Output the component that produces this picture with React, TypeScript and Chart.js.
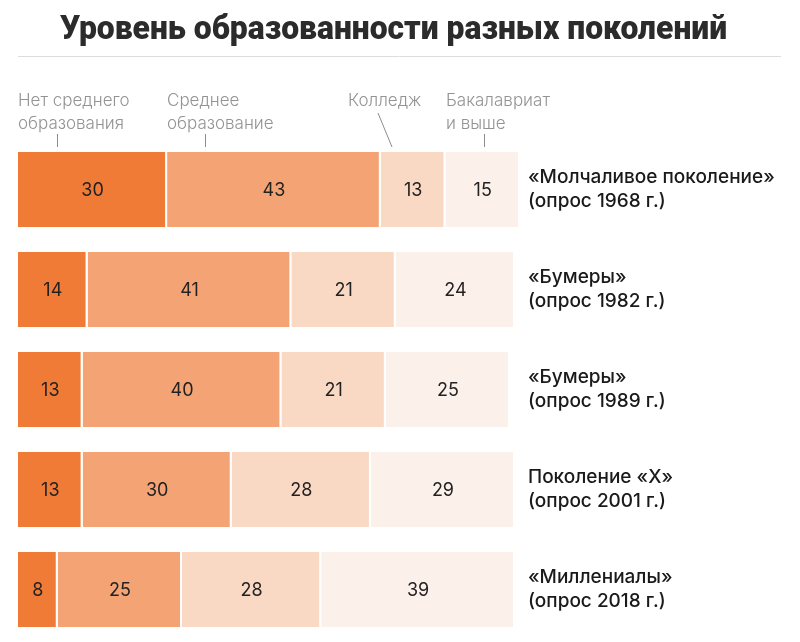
import React, { useEffect, useRef } from "react";
import { Chart, registerables } from "chart.js";

Chart.register(...registerables);

const title = "Уровень образованности разных поколений";
const rowLabels = [
  ["«Молчаливое поколение»", "(опрос 1968 г.)"],
  ["«Бумеры»", "(опрос 1982 г.)"],
  ["«Бумеры»", "(опрос 1989 г.)"],
  ["Поколение «X»", "(опрос 2001 г.)"],
  ["«Миллениалы»", "(опрос 2018 г.)"],
];
const categories = ["1968", "1982", "1989", "2001", "2018"];
const seriesNames = [
  ["Нет среднего", "образования"],
  ["Среднее", "образование"],
  ["Колледж"],
  ["Бакалавриат", "и выше"],
];
const noHighSchool = [30, 14, 13, 13, 8];
const highSchool = [43, 41, 40, 30, 25];
const college = [13, 21, 21, 28, 28];
const bachelor = [15, 24, 25, 29, 39];
const colors = ["#F07B36", "#F4A474", "#F9D8C4", "#FCF0EA"];

export default function App() {
  const ref = useRef<HTMLCanvasElement | null>(null);
  useEffect(() => {
    const canvas = ref.current!;
    const decor = {
      id: "decor",
      afterDraw(chart: any) {
        const ctx = chart.ctx as CanvasRenderingContext2D;
        ctx.save();
        // title
        ctx.fillStyle = "#2b2b2b";
        ctx.font = "900 34px Roboto";
        ctx.textBaseline = "alphabetic";
        ctx.textAlign = "left";
        const w = ctx.measureText(title).width;
        const sx = 667 / w;
        ctx.save();
        ctx.translate(60, 39);
        ctx.scale(sx, 1);
        ctx.fillText(title, 0, 0);
        ctx.restore();
        // rule
        ctx.strokeStyle = "#dddddd";
        ctx.lineWidth = 1;
        ctx.beginPath();
        ctx.moveTo(18, 56.5);
        ctx.lineTo(781, 56.5);
        ctx.stroke();
        // legend labels
        ctx.fillStyle = "#939393";
        ctx.font = "300 17px Inter";
        const pos = [18, 167, 348, 446];
        seriesNames.forEach((lines, i) => {
          lines.forEach((t, j) => {
            ctx.fillText(t, pos[i], 106 + j * 23);
          });
        });
        ctx.strokeStyle = "#8c8c8c";
        ctx.lineWidth = 1;
        const ticks = [57.5, 205.5, 484.5];
        ticks.forEach((x) => {
          ctx.beginPath();
          ctx.moveTo(x, 134);
          ctx.lineTo(x, 147);
          ctx.stroke();
        });
        ctx.beginPath();
        ctx.moveTo(378, 113);
        ctx.lineTo(392, 147);
        ctx.stroke();
        // value labels
        ctx.fillStyle = "#222";
        ctx.font = "18px Inter";
        ctx.textAlign = "center";
        ctx.textBaseline = "middle";
        chart.data.datasets.forEach((ds: any, di: number) => {
          const meta = chart.getDatasetMeta(di);
          meta.data.forEach((bar: any, i: number) => {
            const cx = (bar.x + bar.base) / 2;
            ctx.fillText(String(ds.data[i]), cx, bar.y + 1);
          });
        });
        // row labels
        ctx.fillStyle = "#1a1a1a";
        ctx.font = "500 19px Inter";
        ctx.textAlign = "left";
        const yScale = chart.scales.y;
        rowLabels.forEach((lines, i) => {
          const cy = yScale.getPixelForValue(i);
          ctx.fillText(lines[0], 528, cy - 12);
          ctx.fillText(lines[1], 528, cy + 12);
        });
        ctx.restore();
      },
    };
    const series = [noHighSchool, highSchool, college, bachelor];
    const chart = new Chart(canvas, {
      type: "bar",
      data: {
        labels: categories,
        datasets: series.map((d, i) => ({
          label: seriesNames[i].join(" "),
          data: d,
          backgroundColor: colors[i],
          borderColor: "#ffffff",
          borderWidth: { top: 0, bottom: 0, left: 0, right: 2 },
          borderSkipped: false,
          barPercentage: 1,
          categoryPercentage: 0.75,
        })),
      },
      options: {
        indexAxis: "y",
        animation: false,
        responsive: false,
        layout: { padding: { left: 18, right: 280, top: 139.5, bottom: 2.5 } },
        plugins: { legend: { display: false }, tooltip: { enabled: false }, title: { display: false } },
        scales: {
          x: { stacked: true, min: 0, max: 101, display: false },
          y: { stacked: true, display: false },
        },
      },
      plugins: [decor],
    } as any);
    return () => chart.destroy();
  }, []);
  return (
    <div style={{ position: "fixed", left: 0, top: 0, width: 800, height: 642, background: "#fff" }}>
      <canvas ref={ref} width={800} height={642} style={{ width: 800, height: 642, display: "block" }} />
    </div>
  );
}
